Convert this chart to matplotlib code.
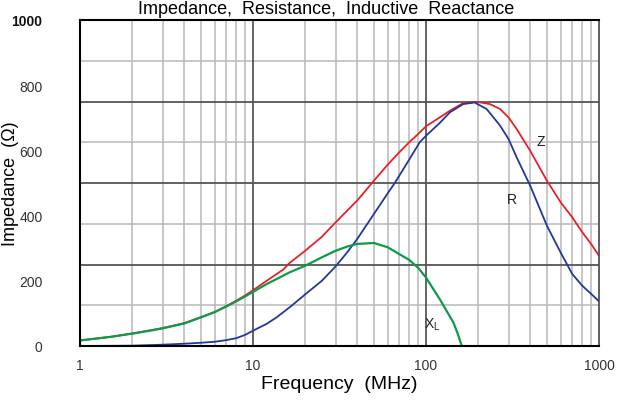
import numpy as np
import matplotlib
matplotlib.use("Agg")
import matplotlib.pyplot as plt
from matplotlib.ticker import FixedLocator, NullFormatter

# frequency points (MHz) and impedance values (ohm)
freq_z = [1, 1.5, 2, 3, 4, 5, 6, 7, 8, 9, 10, 12, 15, 16.3, 20, 25, 30, 35, 40, 50, 60, 70,
          80, 90, 100, 120, 137.6, 164, 196, 234, 268, 300, 334, 400, 500, 600, 700,
          800, 900, 1000]
z_ohm = [17, 28, 38, 55, 70, 88, 104, 122, 139, 155, 171, 200, 235, 255, 292, 335, 379, 415, 446, 507, 556, 594,
         625, 650, 674, 701, 722, 745, 749, 742, 727, 701, 666, 599, 507, 441, 395,
         349, 313, 277]

freq_r = [1, 2, 3, 4, 5, 6, 7, 8, 9, 10, 12, 13.7, 16.4, 20, 25, 30, 35, 40, 50, 60, 66,
          70, 80, 92, 100, 120, 137.6, 164, 191, 224, 250, 268, 300, 334, 400, 500,
          600, 700, 800, 900, 1000]
r_ohm = [0, 1, 4, 7, 10, 13, 18, 24, 34, 47, 68, 88, 120, 158, 200, 244, 287, 328, 405, 468, 500,
         522, 572, 625, 645, 684, 717, 742, 747, 727, 696, 676, 635, 579, 492, 369,
         287, 221, 185, 160, 137]

freq_x = [1, 1.5, 2, 2.54, 3, 4, 5, 6, 7, 8, 9, 10, 12, 16.3, 20, 25, 30, 35, 40, 50,
          60, 70, 80, 90, 100, 120, 144, 152, 161]
x_ohm = [17, 28, 38, 47, 54, 69, 88, 104, 121, 137, 152, 166, 190, 226, 246, 272, 292, 305, 313, 316,
         303, 282, 264, 240, 210, 144, 72, 40, 0]

y_ticks = [0, 200, 400, 600, 800, 1000]
x_ticks = [1, 10, 100, 1000]
y_grid = [125, 250, 375, 500, 625, 750, 875]

tick_font = ['Liberation Sans Narrow', 'Liberation Sans', 'DejaVu Sans']
plt.rcParams['font.family'] = ['Liberation Sans', 'DejaVu Sans']

fig = plt.figure(figsize=(6.21, 4.02), dpi=100)
ax = fig.add_axes([80 / 621, 55 / 402, 519 / 621, 326 / 402])

ax.set_xscale('log')
ax.set_xlim(1, 1000)
ax.set_ylim(0, 1000)

# grid: light minor lines, darker decades / every 250 ohm
minor_f = [m * 10 ** d for d in range(3) for m in range(2, 10)]
for f in minor_f:
    ax.axvline(f, color='#b8b8b8', lw=1.1, zorder=1)
for f in [10, 100]:
    ax.axvline(f, color='#3a3a3a', lw=1.1, zorder=1.5)
for i, v in enumerate(y_grid):
    dark = (i % 2 == 1)
    ax.axhline(v, color='#555555' if dark else '#b8b8b8', lw=1.3 if dark else 1.1,
               zorder=1.5 if dark else 1)

ax.plot(freq_z, z_ohm, color='#e8202a', lw=1.3, zorder=3)
ax.plot(freq_r, r_ohm, color='#22389a', lw=1.3, zorder=3)
ax.plot(freq_x, x_ohm, color='#0e9a48', lw=1.6, zorder=3)

ax.text(462, 629, 'Z', fontsize=10, color='#222222', ha='center', va='center')
ax.text(314, 451, 'R', fontsize=10, color='#222222', ha='center', va='center')
ax.text(108, 67, r'X$_\mathregular{L}$', fontsize=10, color='#222222', ha='center', va='center')

ax.xaxis.set_major_locator(FixedLocator(x_ticks))
ax.xaxis.set_minor_locator(FixedLocator(minor_f))
ax.xaxis.set_minor_formatter(NullFormatter())
ax.set_xticklabels([str(t) for t in x_ticks], family=tick_font, fontsize=10, color='#333333')
ax.set_yticks(y_ticks)
ax.set_yticklabels([str(t) for t in y_ticks], family=tick_font, fontsize=10, color='#333333')
ax.get_yticklabels()[-1].set_fontweight('bold')
ax.get_yticklabels()[-1].set_color('#111111')
ax.tick_params(axis='both', which='both', length=0)
ax.tick_params(axis='y', pad=27)
ax.tick_params(axis='x', pad=9)

for s in ax.spines.values():
    s.set_color('black')
    s.set_linewidth(1.5)
    s.set_zorder(4)
ax.spines['right'].set_color('#444444')
ax.spines['right'].set_linewidth(1.2)

ax.set_xlabel('Frequency  (MHz)', fontsize=14, labelpad=2)
ax.set_ylabel('Impedance  (\u03a9)', fontsize=13)
ax.yaxis.set_label_coords(-0.118, 0.5)

fig.text(0.525, 1 - 14 / 402, 'Impedance,  Resistance,  Inductive  Reactance',
         ha='center', va='baseline', fontsize=13)

fig.savefig('out.png', dpi=100)
